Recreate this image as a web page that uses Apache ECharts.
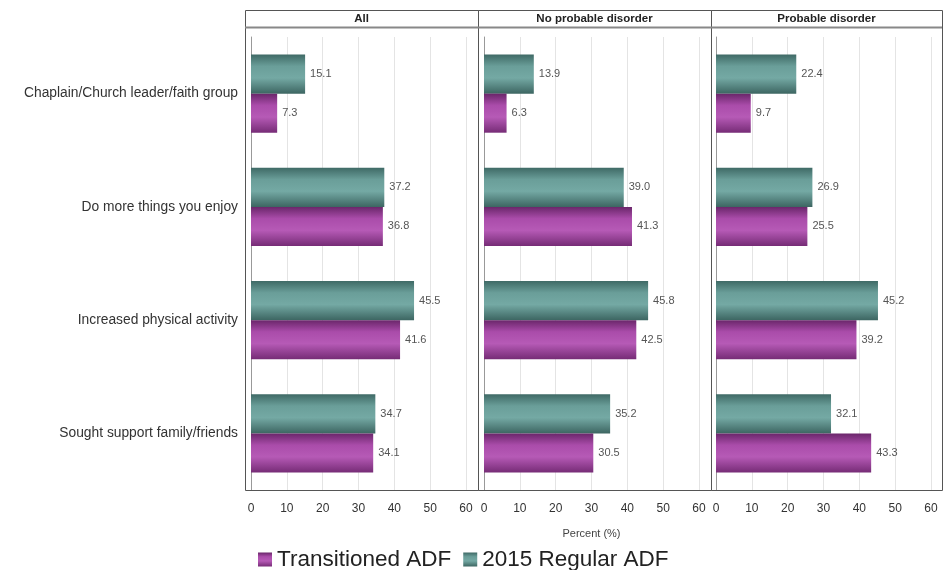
<!DOCTYPE html>
<html>
<head>
<meta charset="utf-8">
<script src="https://cdn.jsdelivr.net/npm/echarts@6/dist/echarts.min.js"></script>
<style>
  html, body { margin: 0; padding: 0; background: #fff; }
  #chart { width: 944px; height: 570px; }
</style>
</head>
<body>
<div id="chart"></div>
<script>
// categories (top to bottom)
var categories = [
  'Chaplain/Church leader/faith group',
  'Do more things you enjoy',
  'Increased physical activity',
  'Sought support family/friends'
]
var panels = ['All', 'No probable disorder', 'Probable disorder']
var xTicks = [0, 10, 20, 30, 40, 50, 60]

// one array per panel and series
var regularAll = [15.1, 37.2, 45.5, 34.7]
var transAll = [7.3, 36.8, 41.6, 34.1]
var regularNoDis = [13.9, 39.0, 45.8, 35.2]
var transNoDis = [6.3, 41.3, 42.5, 30.5]
var regularProb = [22.4, 26.9, 45.2, 32.1]
var transProb = [9.7, 25.5, 39.2, 43.3]

var regularData = [regularAll, regularNoDis, regularProb]
var transData = [transAll, transNoDis, transProb]

var chart = echarts.init(document.getElementById('chart'), null, { renderer: 'canvas' })

var font = 'Arial, "Liberation Sans", sans-serif'

// panel frames (left edge, axis zero, right edge)
var frameX = [245, 478, 711, 942]
var axisLeft = [251, 484, 716]
var axisWidth = 215
var plotTop = 37
var plotBottom = 490

function grad(stops) {
  return new echarts.graphic.LinearGradient(0, 0, 0, 1, stops)
}
var tealColor = grad([
  { offset: 0, color: '#3f6a66' },
  { offset: 0.3, color: '#6a9e99' },
  { offset: 0.6, color: '#74a9a4' },
  { offset: 1, color: '#3d6662' }
])
var magentaColor = grad([
  { offset: 0, color: '#6a266a' },
  { offset: 0.3, color: '#aa4caa' },
  { offset: 0.6, color: '#b65ab6' },
  { offset: 1, color: '#762c76' }
])

var barLabel = {
  show: true,
  position: 'right',
  distance: 5,
  color: '#555',
  fontSize: 11,
  fontFamily: font,
  formatter: p => p.value.toFixed(1)
}

var grids = [], xAxes = [], yAxes = [], series = [], titles = [], graphics = []

for (let i = 0; i < 3; i++) {
  grids.push({
    left: axisLeft[i],
    width: axisWidth,
    top: plotTop,
    height: plotBottom - plotTop
  })
  xAxes.push({
    type: 'value',
    gridIndex: i,
    min: xTicks[0],
    max: xTicks[xTicks.length - 1],
    interval: 10,
    axisLine: { show: false },
    axisTick: { show: false },
    axisLabel: { color: '#333', fontSize: 12, fontFamily: font, margin: 13 },
    splitLine: { show: true, lineStyle: { color: '#e4e4e4', width: 1 } },
    name: i === 1 ? 'Percent (%)' : '',
    nameLocation: 'middle',
    nameGap: 38,
    nameTextStyle: { color: '#444', fontSize: 11, fontFamily: font }
  })
  yAxes.push({
    type: 'category',
    gridIndex: i,
    inverse: true,
    data: categories,
    axisLine: { show: true, lineStyle: { color: '#999' } },
    axisTick: { show: false },
    axisLabel: {
      show: i === 0,
      color: '#333',
      fontSize: 13.8,
      fontFamily: font,
      margin: 13
    }
  })
  series.push({
    name: '2015 Regular ADF',
    type: 'bar',
    xAxisIndex: i,
    yAxisIndex: i,
    data: regularData[i],
    barGap: '0%',
    barCategoryGap: '31%',
    itemStyle: { color: tealColor },
    label: barLabel
  })
  series.push({
    name: 'Transitioned ADF',
    type: 'bar',
    xAxisIndex: i,
    yAxisIndex: i,
    data: transData[i],
    barGap: '0%',
    barCategoryGap: '31%',
    itemStyle: { color: magentaColor },
    label: barLabel
  })
  // header strip text
  titles.push({
    text: panels[i],
    left: (frameX[i] + frameX[i + 1]) / 2,
    top: 13,
    padding: 0,
    textAlign: 'center',
    textStyle: { fontSize: 11.5, fontWeight: 'bold', color: '#222', fontFamily: font }
  })
  // panel frame + header strip
  graphics.push({
    type: 'rect',
    shape: { x: frameX[i] + 0.5, y: 10.5, width: frameX[i + 1] - frameX[i], height: plotBottom - 10 },
    style: { fill: null, stroke: '#555', lineWidth: 1 },
    z: 10
  })
  graphics.push({
    type: 'line',
    shape: { x1: frameX[i], y1: 27.5, x2: frameX[i + 1], y2: 27.5 },
    style: { stroke: '#888', lineWidth: 2 },
    z: 10
  })
}

chart.setOption({
  animation: false,
  title: titles,
  grid: grids,
  xAxis: xAxes,
  yAxis: yAxes,
  series: series,
  graphic: graphics,
  legend: {
    data: ['Transitioned ADF', '2015 Regular ADF'],
    left: 253,
    top: 543,
    itemWidth: 14,
    itemHeight: 14,
    itemGap: 12,
    icon: 'rect',
    textStyle: { fontSize: 22.5, color: '#222', fontFamily: font }
  }
})
</script>
</body>
</html>
